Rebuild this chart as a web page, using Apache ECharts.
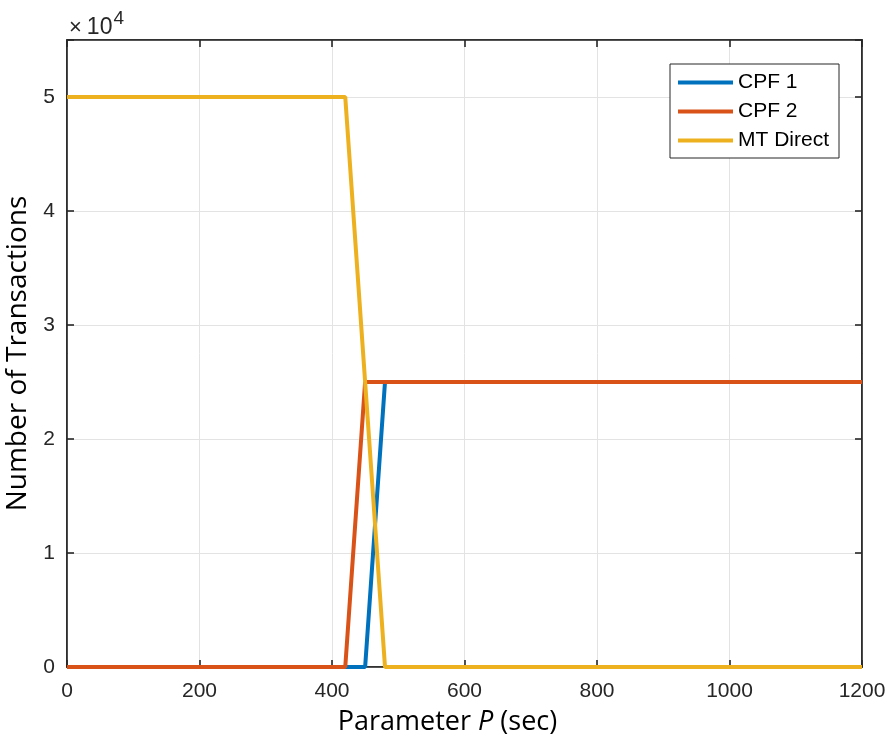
<!DOCTYPE html>
<html>
<head>
<meta charset="utf-8">
<script src="https://cdn.jsdelivr.net/npm/echarts@6/dist/echarts.min.js"></script>
<style>
  html, body { margin: 0; padding: 0; background: #fff; }
  #chart { width: 890px; height: 740px; }
</style>
</head>
<body>
<div id="chart"></div>
<script>
// data
var xValues = [0, 420, 450, 480, 1200];
var cpf1 = [0, 0, 0, 25000, 25000];
var cpf2 = [0, 0, 25000, 25000, 25000];
var mtDirect = [50000, 50000, 25000, 0, 0];
var seriesNames = ['CPF 1', 'CPF 2', 'MT Direct'];
var colors = ['#0072BD', '#D95319', '#EDB120'];

function pairs(ys) {
  var out = [];
  for (var i = 0; i < xValues.length; i++) {
    out.push([xValues[i], ys[i]]);
  }
  return out;
}

var chart = echarts.init(document.getElementById('chart'));

var tickFont = { fontFamily: 'Liberation Sans', fontSize: 21, color: '#262626' };
var axisLineStyle = { onZero: false, lineStyle: { color: '#262626', width: 1.6 } };
var innerTick = { inside: true, length: 7, lineStyle: { color: '#262626', width: 1.6 } };

var option = {
  animation: false,
  backgroundColor: '#fff',
  color: colors,
  grid: {
    left: 67, right: 28, top: 40, bottom: 73,
    containLabel: false,
    outerBoundsMode: 'none',
    show: true, borderColor: '#262626', borderWidth: 1.6
  },
  legend: {
    orient: 'vertical',
    right: 51, top: 64,
    padding: [8, 10, 7, 8],
    borderColor: '#262626', borderWidth: 1,
    backgroundColor: '#fff',
    icon: 'rect',
    itemWidth: 55, itemHeight: 4,
    itemGap: 8,
    textStyle: { fontFamily: 'Liberation Sans', fontSize: 21, color: '#000' },
    data: seriesNames
  },
  // the x10^4 exponent label above the y axis
  graphic: [{
    type: 'text',
    left: 69, top: 9,
    style: {
      text: '{a|×}{b|10}{c|4}',
      rich: {
        a: { fontFamily: 'Liberation Sans', fontSize: 22, fill: '#262626', padding: [7, 5, 0, 0] },
        b: { fontFamily: 'Liberation Sans', fontSize: 23, fill: '#262626', padding: [7, 1, 0, 0] },
        c: { fontFamily: 'Liberation Sans', fontSize: 19, fill: '#262626', verticalAlign: 'top', padding: [0, 0, 10, 0] }
      }
    }
  }],
  xAxis: [{
    type: 'value',
    min: 0, max: 1200, interval: 200,
    axisLine: axisLineStyle,
    axisTick: innerTick,
    axisLabel: Object.assign({
      margin: 14,
      formatter: function (v) { return String(v); }
    }, tickFont),
    splitLine: { show: true, lineStyle: { color: '#e3e3e3', width: 1 } },
    name: '{n|Parameter }{i|P}{n| (sec)}',
    nameLocation: 'middle',
    nameGap: 42,
    nameTextStyle: {
      padding: [0, 34, 0, 0],
      rich: {
        n: { fontFamily: 'Open Sans', fontSize: 27, color: '#000' },
        i: { fontFamily: 'Open Sans', fontSize: 27, fontStyle: 'italic', color: '#000' }
      }
    }
  }, {
    type: 'value', position: 'top',
    min: 0, max: 1200, interval: 200,
    axisLine: axisLineStyle,
    axisTick: innerTick,
    axisLabel: { show: false },
    splitLine: { show: false }
  }],
  yAxis: [{
    type: 'value', position: 'left',
    min: 0, max: 55000, interval: 10000,
    axisLine: axisLineStyle,
    axisTick: innerTick,
    axisLabel: Object.assign({
      margin: 12,
      formatter: function (v) { return v % 10000 === 0 ? String(v / 10000) : ''; }
    }, tickFont),
    splitLine: { show: true, lineStyle: { color: '#e3e3e3', width: 1 } },
    name: 'Number of Transactions',
    nameLocation: 'middle',
    nameGap: 30,
    nameTextStyle: { fontFamily: 'Open Sans', fontSize: 28, color: '#000' }
  }, {
    type: 'value', position: 'right',
    min: 0, max: 55000, interval: 10000,
    axisLine: axisLineStyle,
    axisTick: innerTick,
    axisLabel: { show: false },
    splitLine: { show: false }
  }],
  series: [
    { name: seriesNames[0], type: 'line', data: pairs(cpf1), showSymbol: false, lineStyle: { width: 4, color: colors[0] }, z: 3 },
    { name: seriesNames[1], type: 'line', data: pairs(cpf2), showSymbol: false, lineStyle: { width: 4, color: colors[1] }, z: 4 },
    { name: seriesNames[2], type: 'line', data: pairs(mtDirect), showSymbol: false, lineStyle: { width: 4, color: colors[2] }, z: 5 }
  ]
};

chart.setOption(option);
</script>
</body>
</html>
